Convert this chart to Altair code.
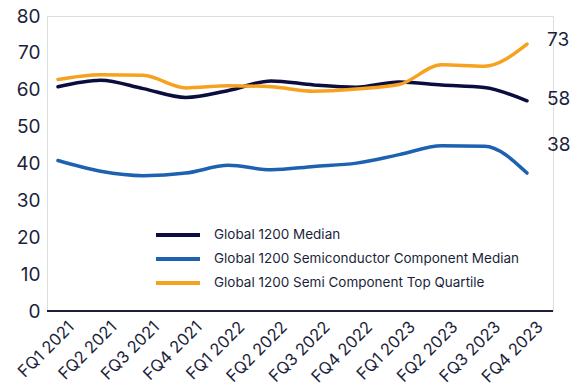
import altair as alt
import pandas as pd

quarters = ["FQ1 2021", "FQ2 2021", "FQ3 2021", "FQ4 2021",
            "FQ1 2022", "FQ2 2022", "FQ3 2022", "FQ4 2022",
            "FQ1 2023", "FQ2 2023", "FQ3 2023", "FQ4 2023"]
series_names = ["Global 1200 Median",
                "Global 1200 Semiconductor Component Median",
                "Global 1200 Semi Component Top Quartile"]
median = [60.8, 62.6, 60.3, 57.9, 59.8, 62.4, 61.3, 60.7, 62.1, 61.3, 60.6, 57.0]
semi_median = [40.8, 37.9, 36.7, 37.4, 39.5, 38.3, 39.2, 40.1, 42.4, 44.8, 44.7, 37.4]
semi_top = [62.8, 64.1, 63.9, 60.5, 61.1, 60.8, 59.6, 60.2, 61.4, 66.8, 66.4, 72.4]
end_labels = ["58", "38", "73"]
colors = ["#0b0d3f", "#1d62b0", "#f7a21f"]

rows = []
for name, vals in zip(series_names, [median, semi_median, semi_top]):
    for q, v in zip(quarters, vals):
        rows.append({"quarter": q, "series": name, "value": v})
df = pd.DataFrame(rows)

FONT = "Inter"
TEXT = "#1c1f3b"
W, H = 506, 295
x_scale = alt.Scale(type="point", range=[11, 480], padding=0)
y_scale = alt.Scale(domain=[0, 80])

x_axis = alt.Axis(title=None, domain=False, ticks=False, labelAngle=-45,
                  labelAlign="right", labelBaseline="middle",
                  labelFontSize=16.5, labelColor=TEXT, labelFont=FONT,
                  labelPadding=13, labelOffset=13)
y_axis = alt.Axis(title=None, domain=False, ticks=False, grid=False,
                  values=[0, 10, 20, 30, 40, 50, 60, 70, 80],
                  labelOverlap=False,
                  labelFontSize=19, labelColor=TEXT, labelFont=FONT,
                  labelPadding=7)

x_enc = alt.X("quarter:N", sort=quarters, scale=x_scale, axis=x_axis)
y_enc = alt.Y("value:Q", scale=y_scale, axis=y_axis)

lines = alt.Chart(df).mark_line(interpolate="monotone", strokeWidth=3.5, strokeCap="round").encode(
    x=x_enc, y=y_enc,
    color=alt.Color("series:N", sort=series_names,
                    scale=alt.Scale(domain=series_names, range=colors),
                    legend=alt.Legend(title=None, orient="none", legendX=119, legendY=207,
                                      symbolType="M-2.2,0L2.2,0", symbolSize=400,
                                      symbolStrokeWidth=4, labelFontSize=13.5,
                                      labelFont=FONT, labelColor=TEXT, rowPadding=4,
                                      labelOffset=24, labelLimit=500))
)

base = alt.Chart(pd.DataFrame({"x": [0]})).mark_rule(color=TEXT, strokeWidth=2).encode(
    x=alt.value(0), x2=alt.value(W), y=alt.value(H))

label_dy = [-2, -28, -4]
texts = []
for name, vals, lab, dy in zip(series_names, [median, semi_median, semi_top], end_labels, label_dy):
    tdf = pd.DataFrame({"quarter": [quarters[-1]], "value": [vals[-1]], "label": [lab]})
    texts.append(alt.Chart(tdf).mark_text(align="left", baseline="middle", dx=20, dy=dy,
                                         fontSize=19, font=FONT, color=TEXT).encode(
        x=x_enc, y=y_enc, text="label:N"))

chart = alt.layer(lines, base, *texts).properties(
    width=W, height=H,
    autosize=alt.AutoSizeParams(type="none"),
    padding={"left": 47, "top": 16, "right": 29, "bottom": 74},
).configure_view(stroke=None).configure(background="white")

chart.save("out.html", embed_options={"renderer": "svg", "actions": False})
